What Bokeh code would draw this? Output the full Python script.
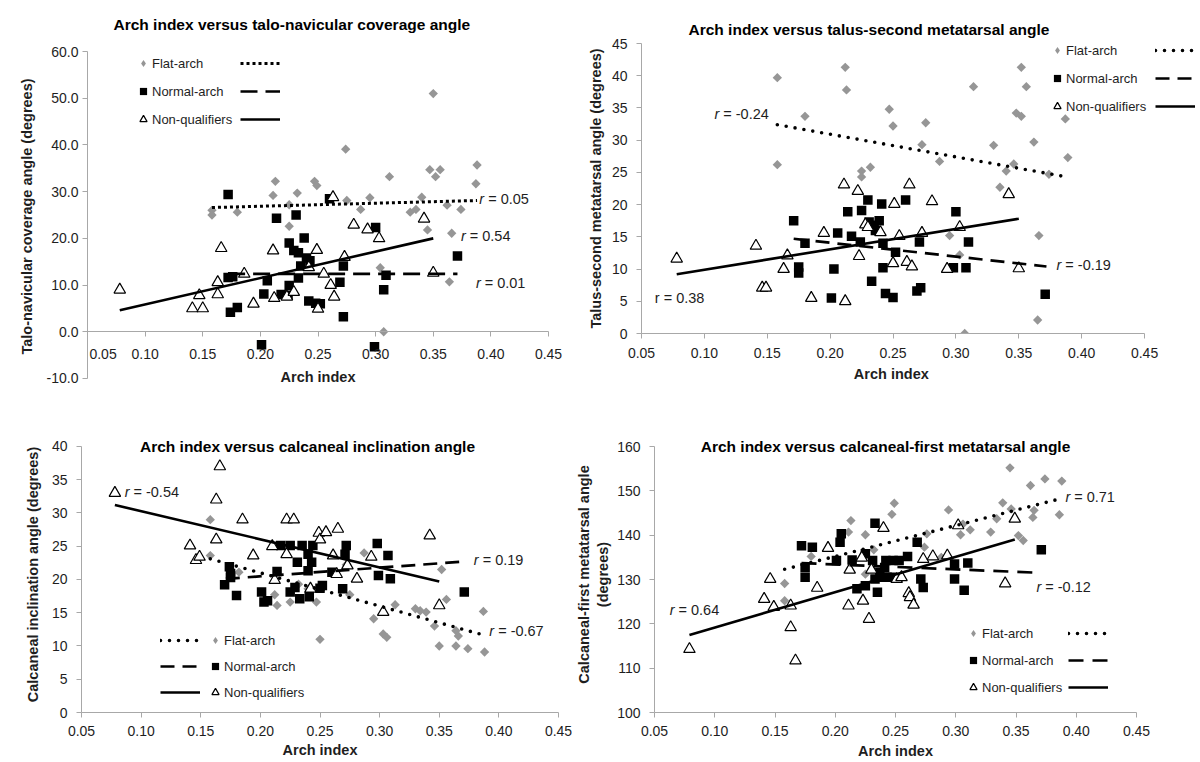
import math
from bokeh.plotting import figure
from bokeh.layouts import column, row
from bokeh.models import Range1d, FixedTicker, NumeralTickFormatter, Legend, LegendItem, Label
from bokeh.embed import file_html
from bokeh.resources import INLINE

FONT = "Liberation Sans"
TXT = "#1e1e1e"
AXC = "#a8a8a8"
GRAY = "#969696"
NBSP = "\u00a0"

arch_ticks = [0.05, 0.10, 0.15, 0.20, 0.25, 0.30, 0.35, 0.40, 0.45]
group_names = ["Flat-arch", "Normal-arch", "Non-qualifiers"]
x_label = "Arch index"

# ---------------- Panel 1: talo-navicular coverage angle ----------------
p1_title = "Arch index versus talo-navicular coverage angle"
p1_ylabel = "Talo-navicular coverage angle (degrees)"
p1_yticks = [-10, 0, 10, 20, 30, 40, 50, 60]
p1_flat_ai = [0.158, 0.158, 0.180, 0.211, 0.213, 0.225, 0.225, 0.232, 0.247, 0.249, 0.274, 0.275, 0.287, 0.295, 0.304, 0.307,
              0.312, 0.330, 0.335, 0.340, 0.345, 0.347, 0.350, 0.352, 0.356, 0.362, 0.364, 0.366, 0.374, 0.387, 0.388]
p1_flat_val = [26.0, 25.0, 25.6, 29.2, 32.2, 22.6, 27.2, 29.7, 32.2, 31.3, 39.1, 28.1, 26.2, 28.7, 13.7, 0.0,
               33.2, 25.6, 26.2, 28.8, 21.8, 34.7, 51.0, 33.2, 34.7, 27.1, 10.7, 21.1, 26.2, 31.7, 35.7]
p1_norm_ai = [0.172, 0.172, 0.176, 0.174, 0.180, 0.201, 0.203, 0.206, 0.214, 0.218, 0.224, 0.225, 0.225, 0.229, 0.231, 0.233, 0.233,
              0.235, 0.238, 0.240, 0.243, 0.242, 0.248, 0.252, 0.260, 0.269, 0.272, 0.272, 0.299, 0.300, 0.307, 0.309, 0.371]
p1_norm_val = [29.4, 11.6, 11.8, 4.2, 5.2, -2.8, 8.1, 10.9, 24.3, 8.0, 7.8, 19.0, 9.9, 17.4, 25.0, 16.9, 11.5,
               14.1, 20.1, 15.8, 15.2, 6.6, 6.1, 6.0, 28.5, 10.6, 14.1, 3.2, -3.2, 22.3, 9.0, 12.1, 16.2]
p1_nonq_ai = [0.078, 0.141, 0.147, 0.150, 0.163, 0.163, 0.166, 0.186, 0.194, 0.211, 0.212, 0.223, 0.229,
              0.242, 0.249, 0.250, 0.255, 0.261, 0.263, 0.264, 0.273, 0.281, 0.293, 0.303, 0.342, 0.350]
p1_nonq_val = [9.0, 5.0, 7.8, 5.0, 10.6, 8.0, 17.9, 12.4, 6.0, 17.4, 7.2, 7.5, 8.5,
               13.8, 17.5, 4.9, 12.4, 10.0, 28.8, 7.5, 16.0, 22.9, 21.9, 20.0, 24.2, 12.6]
p1_fit_flat_ai, p1_fit_flat_val = [0.158, 0.388], [26.6, 28.1]
p1_fit_norm_ai, p1_fit_norm_val = [0.172, 0.371], [12.4, 12.4]
p1_fit_nonq_ai, p1_fit_nonq_val = [0.078, 0.350], [4.6, 20.0]
p1_r = ["0.05", "0.01", "0.54"]

# ---------------- Panel 2: talus-second metatarsal angle ----------------
p2_title = "Arch index versus talus-second metatarsal angle"
p2_ylabel = "Talus-second metatarsal angle (degrees)"
p2_yticks = [0, 5, 10, 15, 20, 25, 30, 35, 40, 45]
p2_flat_ai = [0.158, 0.158, 0.180, 0.212, 0.213, 0.225, 0.225, 0.232, 0.247, 0.250, 0.273, 0.276, 0.287, 0.295, 0.303, 0.307,
              0.314, 0.330, 0.335, 0.340, 0.346, 0.348, 0.352, 0.352, 0.356, 0.362, 0.365, 0.366, 0.374, 0.387, 0.389]
p2_flat_val = [39.7, 26.2, 33.7, 41.3, 37.8, 25.2, 24.3, 25.8, 34.8, 32.2, 29.3, 32.7, 26.7, 15.2, 12.2, 0.0,
               38.3, 29.2, 22.7, 25.2, 26.3, 34.2, 41.3, 33.7, 38.3, 29.7, 2.1, 15.2, 24.7, 33.3, 27.3]
p2_norm_ai = [0.171, 0.175, 0.175, 0.180, 0.201, 0.203, 0.206, 0.214, 0.217, 0.224, 0.225, 0.230, 0.231, 0.233, 0.235, 0.236,
              0.239, 0.241, 0.242, 0.242, 0.244, 0.250, 0.252, 0.260, 0.269, 0.271, 0.272, 0.298, 0.300, 0.308, 0.310, 0.371]
p2_norm_val = [17.5, 10.3, 9.4, 14.0, 5.5, 10.0, 15.6, 18.9, 15.1, 14.2, 19.1, 20.7, 17.3, 8.1, 16.8, 16.0,
               17.5, 20.1, 14.0, 10.2, 6.2, 5.6, 12.6, 20.7, 6.6, 14.2, 7.1, 10.2, 18.9, 10.2, 14.2, 6.1]
p2_nonq_ai = [0.078, 0.141, 0.146, 0.149, 0.163, 0.166, 0.185, 0.195, 0.211, 0.212, 0.222, 0.223, 0.228, 0.230,
              0.240, 0.250, 0.251, 0.255, 0.261, 0.263, 0.265, 0.273, 0.281, 0.293, 0.303, 0.342, 0.350]
p2_nonq_val = [11.6, 13.6, 7.1, 7.1, 10.0, 12.1, 5.5, 15.6, 23.1, 5.0, 22.1, 12.0, 16.9, 16.5,
               15.7, 10.9, 20.1, 15.1, 11.1, 23.1, 10.4, 15.6, 20.5, 10.0, 16.5, 21.6, 10.1]
p2_fit_flat_ai, p2_fit_flat_val = [0.158, 0.388], [32.4, 24.3]
p2_fit_norm_ai, p2_fit_norm_val = [0.171, 0.372], [14.7, 10.4]
p2_fit_nonq_ai, p2_fit_nonq_val = [0.078, 0.350], [9.2, 17.8]
p2_r = ["-0.24", "-0.19", "0.38"]

# ---------------- Panel 3: calcaneal inclination angle ----------------
p3_title = "Arch index versus calcaneal inclination angle"
p3_ylabel = "Calcaneal inclination angle (degrees)"
p3_yticks = [0, 5, 10, 15, 20, 25, 30, 35, 40]
p3_flat_ai = [0.158, 0.158, 0.182, 0.212, 0.214, 0.225, 0.232, 0.240, 0.247, 0.250, 0.272, 0.275, 0.287, 0.295, 0.303,
              0.306, 0.313, 0.330, 0.334, 0.339, 0.346, 0.350, 0.352, 0.356, 0.364, 0.366, 0.364, 0.374, 0.387, 0.388]
p3_flat_val = [29.0, 23.6, 21.1, 17.7, 16.1, 16.6, 19.3, 18.6, 16.6, 11.0, 22.2, 17.7, 24.0, 14.1, 11.8,
               11.3, 16.2, 15.6, 15.3, 15.1, 13.0, 10.0, 21.5, 17.0, 12.3, 11.5, 10.0, 9.6, 15.2, 9.1]
p3_norm_ai = [0.170, 0.174, 0.175, 0.175, 0.180, 0.201, 0.203, 0.206, 0.214, 0.217, 0.225, 0.225, 0.229, 0.231, 0.233, 0.235,
              0.240, 0.240, 0.241, 0.243, 0.244, 0.250, 0.252, 0.260, 0.269, 0.271, 0.272, 0.298, 0.299, 0.307, 0.309, 0.371]
p3_norm_val = [19.2, 21.9, 20.9, 20.3, 17.6, 18.1, 16.6, 16.8, 21.2, 25.1, 25.1, 18.1, 18.8, 22.6, 17.1, 25.1,
               23.8, 21.3, 17.4, 22.6, 25.1, 18.7, 19.1, 21.1, 18.6, 23.8, 25.1, 25.4, 20.6, 23.6, 20.1, 18.1]
p3_nonq_ai = [0.078, 0.141, 0.146, 0.149, 0.163, 0.163, 0.166, 0.185, 0.194, 0.210, 0.212, 0.222, 0.228, 0.222,
              0.242, 0.249, 0.250, 0.255, 0.261, 0.264, 0.265, 0.273, 0.281, 0.293, 0.303, 0.342, 0.350]
p3_nonq_val = [33.0, 25.1, 22.9, 23.4, 32.0, 26.0, 37.0, 29.0, 23.6, 25.0, 19.9, 29.0, 29.0, 23.8,
               18.6, 27.0, 26.0, 27.1, 23.6, 20.8, 27.6, 22.1, 20.1, 23.4, 15.1, 26.6, 16.1]
p3_fit_flat_ai, p3_fit_flat_val = [0.158, 0.388], [23.1, 11.6]
p3_fit_norm_ai, p3_fit_norm_val = [0.171, 0.371], [20.1, 22.7]
p3_fit_nonq_ai, p3_fit_nonq_val = [0.078, 0.350], [31.2, 19.7]
p3_r = ["-0.67", "0.19", "-0.54"]

# ---------------- Panel 4: calcaneal-first metatarsal angle ----------------
p4_title = "Arch index versus calcaneal-first metatarsal angle"
p4_ylabel = "Calcaneal-first metatarsal angle\n(degrees)"
p4_yticks = [100, 110, 120, 130, 140, 150, 160]
p4_flat_ai = [0.158, 0.158, 0.180, 0.211, 0.213, 0.225, 0.225, 0.232, 0.247, 0.249, 0.274, 0.276, 0.288, 0.294, 0.304,
              0.306, 0.312, 0.329, 0.334, 0.339, 0.345, 0.346, 0.352, 0.356, 0.362, 0.364, 0.365, 0.374, 0.386, 0.388]
p4_flat_val = [129.1, 125.2, 135.2, 140.7, 143.3, 140.1, 131.2, 136.7, 144.7, 147.2, 137.3, 140.3, 135.0, 145.7, 140.1,
               142.5, 141.2, 140.7, 143.7, 147.3, 155.2, 145.9, 139.9, 138.8, 151.2, 144.0, 145.6, 152.7, 144.6, 152.2]
p4_norm_ai = [0.172, 0.175, 0.175, 0.181, 0.201, 0.204, 0.205, 0.214, 0.218, 0.225, 0.225, 0.231, 0.233, 0.233, 0.235, 0.237,
              0.239, 0.241, 0.243, 0.242, 0.248, 0.253, 0.247, 0.260, 0.268, 0.271, 0.273, 0.299, 0.299, 0.307, 0.310, 0.371]
p4_norm_val = [137.6, 132.7, 130.5, 137.3, 134.3, 138.4, 140.3, 134.4, 127.9, 135.8, 128.6, 134.3, 142.7, 130.1, 127.1, 131.6,
               130.5, 132.7, 130.5, 134.3, 134.3, 134.3, 130.5, 135.2, 138.4, 130.1, 128.2, 133.5, 130.1, 127.6, 133.7, 136.7]
p4_nonq_ai = [0.079, 0.141, 0.146, 0.149, 0.163, 0.163, 0.167, 0.185, 0.194, 0.211, 0.212, 0.222, 0.223, 0.228,
              0.230, 0.240, 0.251, 0.255, 0.261, 0.262, 0.265, 0.273, 0.281, 0.293, 0.302, 0.341, 0.349]
p4_nonq_val = [114.3, 125.6, 130.1, 123.8, 124.1, 119.2, 111.7, 128.1, 137.1, 124.1, 132.2, 134.9, 125.2, 121.1,
               132.2, 141.6, 130.1, 130.5, 126.9, 126.0, 124.3, 134.6, 135.2, 135.4, 142.2, 129.1, 143.7]
p4_fit_flat_ai, p4_fit_flat_val = [0.158, 0.388], [132.3, 148.3]
p4_fit_norm_ai, p4_fit_norm_val = [0.172, 0.371], [133.7, 131.5]
p4_fit_nonq_ai, p4_fit_nonq_val = [0.079, 0.349], [117.5, 139.0]
p4_r = ["0.71", "-0.12", "0.64"]


def style_axis(ax, tick_standoff, label_standoff):
    ax.axis_line_color = AXC
    ax.axis_line_width = 1
    ax.major_tick_line_color = AXC
    ax.minor_tick_line_color = None
    ax.major_tick_out = 5
    ax.major_tick_in = 0
    ax.major_label_standoff = tick_standoff
    ax.axis_label_standoff = label_standoff
    ax.major_label_text_font = FONT
    ax.major_label_text_font_size = "14px"
    ax.major_label_text_color = TXT
    ax.axis_label_text_font = FONT
    ax.axis_label_text_font_style = "bold"
    ax.axis_label_text_font_size = "14.5px"
    ax.axis_label_text_color = TXT


def r_label(p, x, y, txt, italic=True):
    if italic:
        p.add_layout(Label(x=x, y=y, text="r", text_font=FONT, text_font_style="italic",
                           text_font_size="14.5px", text_color=TXT, text_baseline="middle"))
        p.add_layout(Label(x=x, y=y, x_offset=8.8, text="= " + txt, text_font=FONT,
                           text_font_size="14.5px", text_color=TXT, text_baseline="middle"))
    else:
        p.add_layout(Label(x=x, y=y, text="r = " + txt, text_font=FONT,
                           text_font_size="14.5px", text_color=TXT, text_baseline="middle"))


def build(cfg, d):
    y0, y1 = d["yticks"][0], d["yticks"][-1]
    use_title = cfg["title_mode"] == "title"
    p = figure(width=cfg["w"], height=cfg["h"], title=d["title"] if use_title else None,
               x_range=Range1d(arch_ticks[0], cfg.get("x_end", arch_ticks[-1])),
               y_range=Range1d(cfg.get("y_start", y0), cfg["y_end"]),
               output_backend="svg", toolbar_location=None,
               min_border_left=cfg["mbl"], min_border_right=cfg["mbr"],
               min_border_top=cfg["mbt"], min_border_bottom=cfg["mbb"])
    try:
        p.frame_align = False
    except AttributeError:
        pass
    p.outline_line_color = None
    p.xgrid.visible = False
    p.ygrid.visible = False
    p.background_fill_color = "white"
    p.border_fill_color = "white"

    xa, ya = p.xaxis[0], p.yaxis[0]
    style_axis(xa, cfg["xts"], cfg["xls"])
    style_axis(ya, cfg["yts"], cfg["yls"])
    xa.ticker = FixedTicker(ticks=arch_ticks)
    xa.formatter = NumeralTickFormatter(format="0.00")
    xa.bounds = (arch_ticks[0], arch_ticks[-1])
    # the label is centred on the plot frame; trailing no-break spaces re-centre it under the axis
    xa.axis_label = x_label + NBSP * cfg.get("xlabel_pad", 0)
    ya.ticker = FixedTicker(ticks=d["yticks"])
    ya.formatter = NumeralTickFormatter(format=cfg["yfmt"])
    ya.bounds = (y0, y1)
    ya.axis_label = d["ylabel"]
    if cfg.get("x_at_zero"):
        xa.fixed_location = 0
        # first tick label sits on the frame edge: pad it so that it is not cut
        xa.major_label_overrides = {arch_ticks[0]: NBSP * 8 + "0.05"}

    # narrow diamond hidden under the rotated squares: used only as the legend glyph
    legend_diamond = p.scatter(d["flat"][0], d["flat"][1], marker="diamond", size=8,
                               fill_color=GRAY, line_color=None)
    p.scatter(d["flat"][0], d["flat"][1], marker="square", size=6.6, angle=math.pi / 4,
              fill_color=GRAY, line_color=None)
    r_norm = p.scatter(d["norm"][0], d["norm"][1], marker="square", size=9.5,
                       fill_color="black", line_color=None)
    r_nonq = p.scatter(d["nonq"][0], d["nonq"][1], marker="triangle", size=11.5,
                       fill_color="white", line_color="black", line_width=1.2)

    l_flat = p.line(d["fit_flat"][0], d["fit_flat"][1], line_color="black", line_width=cfg["dot_w"],
                    line_dash=cfg["dot"], line_cap=cfg["dot_cap"])
    l_norm = p.line(d["fit_norm"][0], d["fit_norm"][1], line_color="black", line_width=2.7,
                    line_dash=cfg["dash"])
    l_nonq = p.line(d["fit_nonq"][0], d["fit_nonq"][1], line_color="black", line_width=2.6)

    common = dict(padding=0, margin=0, border_line_color=None, background_fill_alpha=0,
                  label_text_font=FONT, label_text_font_size="13px", label_text_color=TXT,
                  glyph_height=18, label_height=18, spacing=cfg["lsp"])
    leg_m = Legend(items=[LegendItem(label=group_names[0], renderers=[legend_diamond]),
                          LegendItem(label=group_names[1], renderers=[r_norm]),
                          LegendItem(label=group_names[2], renderers=[r_nonq])],
                   location=cfg["leg_m"], glyph_width=18, label_standoff=-3, **common)
    leg_l = Legend(items=[LegendItem(label=" ", renderers=[l_flat]),
                          LegendItem(label=" ", renderers=[l_norm]),
                          LegendItem(label=" ", renderers=[l_nonq])],
                   location=cfg["leg_l"], glyph_width=40, label_standoff=0, **common)
    p.add_layout(leg_m)
    p.add_layout(leg_l)

    if use_title:
        t = p.title
        t.text_font = FONT
        t.text_font_style = "bold"
        t.text_font_size = "15.5px"
        t.text_color = "black"
        t.align = "left"
        t.offset = cfg["t_offset"]
        t.vertical_align = cfg["t_valign"]
        t.standoff = cfg["t_standoff"]
    else:
        p.add_layout(Label(x=cfg["tx"], y=cfg["ty"], x_units="screen", y_units="screen", text=d["title"],
                           text_font=FONT, text_font_style="bold", text_font_size="15.5px",
                           text_color="black", text_align="center", text_baseline="middle"))
    for (x, y, italic), txt in zip(cfg["rpos"], d["r"]):
        r_label(p, x, y, txt, italic)
    return p


data = [
    dict(title=p1_title, ylabel=p1_ylabel, yticks=p1_yticks, flat=(p1_flat_ai, p1_flat_val),
         norm=(p1_norm_ai, p1_norm_val), nonq=(p1_nonq_ai, p1_nonq_val), fit_flat=(p1_fit_flat_ai, p1_fit_flat_val),
         fit_norm=(p1_fit_norm_ai, p1_fit_norm_val), fit_nonq=(p1_fit_nonq_ai, p1_fit_nonq_val), r=p1_r),
    dict(title=p2_title, ylabel=p2_ylabel, yticks=p2_yticks, flat=(p2_flat_ai, p2_flat_val),
         norm=(p2_norm_ai, p2_norm_val), nonq=(p2_nonq_ai, p2_nonq_val), fit_flat=(p2_fit_flat_ai, p2_fit_flat_val),
         fit_norm=(p2_fit_norm_ai, p2_fit_norm_val), fit_nonq=(p2_fit_nonq_ai, p2_fit_nonq_val), r=p2_r),
    dict(title=p3_title, ylabel=p3_ylabel, yticks=p3_yticks, flat=(p3_flat_ai, p3_flat_val),
         norm=(p3_norm_ai, p3_norm_val), nonq=(p3_nonq_ai, p3_nonq_val), fit_flat=(p3_fit_flat_ai, p3_fit_flat_val),
         fit_norm=(p3_fit_norm_ai, p3_fit_norm_val), fit_nonq=(p3_fit_nonq_ai, p3_fit_nonq_val), r=p3_r),
    dict(title=p4_title, ylabel=p4_ylabel, yticks=p4_yticks, flat=(p4_flat_ai, p4_flat_val),
         norm=(p4_norm_ai, p4_norm_val), nonq=(p4_nonq_ai, p4_nonq_val), fit_flat=(p4_fit_flat_ai, p4_fit_flat_val),
         fit_norm=(p4_fit_norm_ai, p4_fit_norm_val), fit_nonq=(p4_fit_nonq_ai, p4_fit_nonq_val), r=p4_r),
]

# layout: left column (panels 1, 3) and right column (panels 2, 4)
LEFT_W, RIGHT_W = 572, 626
cfgs = [
    dict(w=LEFT_W, h=436, mbl=87, mbr=9, mbt=47, mbb=51, yfmt="0.0", x_at_zero=True, x_end=0.463,
         y_start=-11.5, y_end=60.86,
         title_mode="title", t_offset=26, t_valign="top", t_standoff=26,
         xts=9, xls=4, yts=4, yls=9, dot="3 3", dot_w=3, dot_cap="butt", dash="17 8", lsp=10,
         leg_m=(47, 257), leg_l=(153, 257),
         rpos=[(0.390, 28.5, True), (0.387, 10.4, True), (0.374, 20.6, True)]),
    dict(w=RIGHT_W, h=390, mbl=69, mbr=1, mbt=43, mbb=57, yfmt="0", x_end=0.4921, y_end=45, xlabel_pad=14,
         title_mode="title", t_offset=47, t_valign="bottom", t_standoff=12,
         xts=9, xls=5, yts=9, yls=5, dot="0 9", dot_w=3.6, dot_cap="round", dash="14 8", lsp=10,
         leg_m=(407, 218), leg_l=(514, 218),
         rpos=[(0.108, 34.1, True), (0.380, 10.6, True), (0.0606, 5.5, False)]),
    dict(w=LEFT_W, h=326, mbl=81, mbr=14, mbt=0, mbb=50, yfmt="0", y_end=41.50,
         title_mode="label", tx=226, ty=266,
         xts=8, xls=3, yts=9, yls=8, dot="0 9", dot_w=3.6, dot_cap="round", dash="14 8", lsp=8,
         leg_m=(125, 11), leg_l=(79, 11),
         rpos=[(0.392, 12.3, True), (0.379, 23.0, True), (0.0862, 33.1, True)]),
    dict(w=RIGHT_W, h=372, mbl=79, mbr=62, mbt=46, mbb=50, yfmt="0", y_end=162.26,
         title_mode="label", tx=231, ty=266,
         xts=8, xls=4, yts=9, yls=3, dot="0 9", dot_w=3.6, dot_cap="round", dash="15 9", lsp=9,
         leg_m=(310, 16), leg_l=(414, 16),
         rpos=[(0.391, 148.7, True), (0.367, 128.2, True), (0.0626, 123.2, True)]),
]

plots = [build(c, d) for c, d in zip(cfgs, data)]
layout = row(column(plots[0], plots[2]), column(plots[1], plots[3]))

open("out.html", "w").write(file_html(layout, INLINE))
